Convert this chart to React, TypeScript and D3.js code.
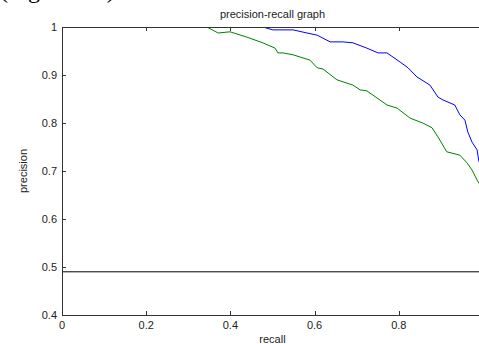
import * as d3 from 'd3';

// recall / precision pairs
const greenRecall = [0.344, 0.371, 0.399, 0.439, 0.477, 0.506, 0.513, 0.525, 0.549, 0.589, 0.606, 0.62, 0.653, 0.691, 0.708, 0.724, 0.772, 0.796, 0.827, 0.857, 0.879, 0.893, 0.914, 0.945, 0.962, 0.974, 0.986, 0.99, 1.0];
const greenPrecision = [1.0, 0.9875, 0.99, 0.979, 0.967, 0.956, 0.946, 0.946, 0.942, 0.931, 0.915, 0.9125, 0.89, 0.879, 0.869, 0.867, 0.8375, 0.831, 0.81, 0.8, 0.79, 0.771, 0.74, 0.733, 0.717, 0.702, 0.681, 0.675, 0.665];

const blueRecall = [0.477, 0.501, 0.549, 0.582, 0.606, 0.637, 0.667, 0.691, 0.724, 0.751, 0.772, 0.803, 0.822, 0.843, 0.874, 0.893, 0.905, 0.933, 0.945, 0.957, 0.964, 0.974, 0.986, 0.99, 1.0];
const bluePrecision = [1.0, 0.994, 0.994, 0.9875, 0.983, 0.969, 0.969, 0.967, 0.956, 0.946, 0.946, 0.927, 0.915, 0.896, 0.879, 0.854, 0.848, 0.8375, 0.817, 0.806, 0.781, 0.76, 0.744, 0.721, 0.7];

const baselineRecall = [0, 1];
const baselinePrecision = [0.49, 0.49];

const xTicks = [0, 0.2, 0.4, 0.6, 0.8, 1];
const yTicks = [0.4, 0.5, 0.6, 0.7, 0.8, 0.9, 1];

const W = 479;
const H = 344;
const margin = { left: 62, top: 27, right: 483, bottom: 315 };
const font = 'Liberation Sans, Arial, sans-serif';
const axisColor = '#333';

const App = () => {
  const x = d3.scaleLinear().domain([0, 1]).range([margin.left, margin.right]);
  const y = d3.scaleLinear().domain([0.4, 1]).range([margin.bottom, margin.top]);

  const line = d3.line<[number, number]>()
    .x(d => x(d[0]))
    .y(d => y(d[1]));

  const zip = (a: number[], b: number[]) => a.map((v, i) => [v, b[i]] as [number, number]);

  const series = [
    { pts: zip(baselineRecall, baselinePrecision), color: '#000' },
    { pts: zip(greenRecall, greenPrecision), color: '#008000' },
    { pts: zip(blueRecall, bluePrecision), color: '#0000ff' },
  ];

  const fmt = (v: number) => (v === 0 || v === 1 ? String(v) : v.toFixed(1));

  return (
    <svg width={W} height={H} style={{ position: 'absolute', left: 0, top: 0, background: '#fff' }}>
      <rect x={0} y={0} width={W} height={H} fill="#fff" />
      {/* caption of the page above, mostly cut off */}
      <text x={0} y={-2} fontFamily="Liberation Serif, Times New Roman, serif" fontSize={24} fill="#000">(Figure 4.1)</text>

      <defs>
        <clipPath id="plot">
          <rect x={margin.left} y={margin.top} width={margin.right - margin.left} height={margin.bottom - margin.top} />
        </clipPath>
      </defs>

      <g clipPath="url(#plot)">
        {series.map((s, i) => (
          <path key={i} d={line(s.pts) || ''} fill="none" stroke={s.color} strokeWidth={1} />
        ))}
      </g>

      {/* box */}
      <rect x={margin.left + 0.5} y={margin.top + 0.5} width={margin.right - margin.left} height={margin.bottom - margin.top}
        fill="none" stroke={axisColor} strokeWidth={1} />

      {xTicks.map(t => (
        <g key={'x' + t}>
          <line x1={Math.round(x(t)) + 0.5} x2={Math.round(x(t)) + 0.5} y1={margin.bottom} y2={margin.bottom - 4} stroke={axisColor} />
          <line x1={Math.round(x(t)) + 0.5} x2={Math.round(x(t)) + 0.5} y1={margin.top} y2={margin.top + 4} stroke={axisColor} />
          {t < 1 && (
            <text x={x(t)} y={margin.bottom + 14} textAnchor="middle" fontFamily={font} fontSize={11} fill="#222">{fmt(t)}</text>
          )}
        </g>
      ))}

      {yTicks.map(t => (
        <g key={'y' + t}>
          <line x1={margin.left} x2={margin.left + 4} y1={Math.round(y(t)) + 0.5} y2={Math.round(y(t)) + 0.5} stroke={axisColor} />
          <line x1={margin.right} x2={margin.right - 4} y1={Math.round(y(t)) + 0.5} y2={Math.round(y(t)) + 0.5} stroke={axisColor} />
          <text x={margin.left - 5} y={y(t) + 4} textAnchor="end" fontFamily={font} fontSize={11} fill="#222">{fmt(t)}</text>
        </g>
      ))}

      <text x={(margin.left + margin.right) / 2} y={18} textAnchor="middle" fontFamily={font} fontSize={11} fill="#222">precision-recall graph</text>
      <text x={(margin.left + margin.right) / 2} y={343} textAnchor="middle" fontFamily={font} fontSize={11} fill="#222">recall</text>
      <text transform={`translate(27,${(margin.top + margin.bottom) / 2}) rotate(-90)`} textAnchor="middle" fontFamily={font} fontSize={11} fill="#222">precision</text>
    </svg>
  );
};

export default App;
